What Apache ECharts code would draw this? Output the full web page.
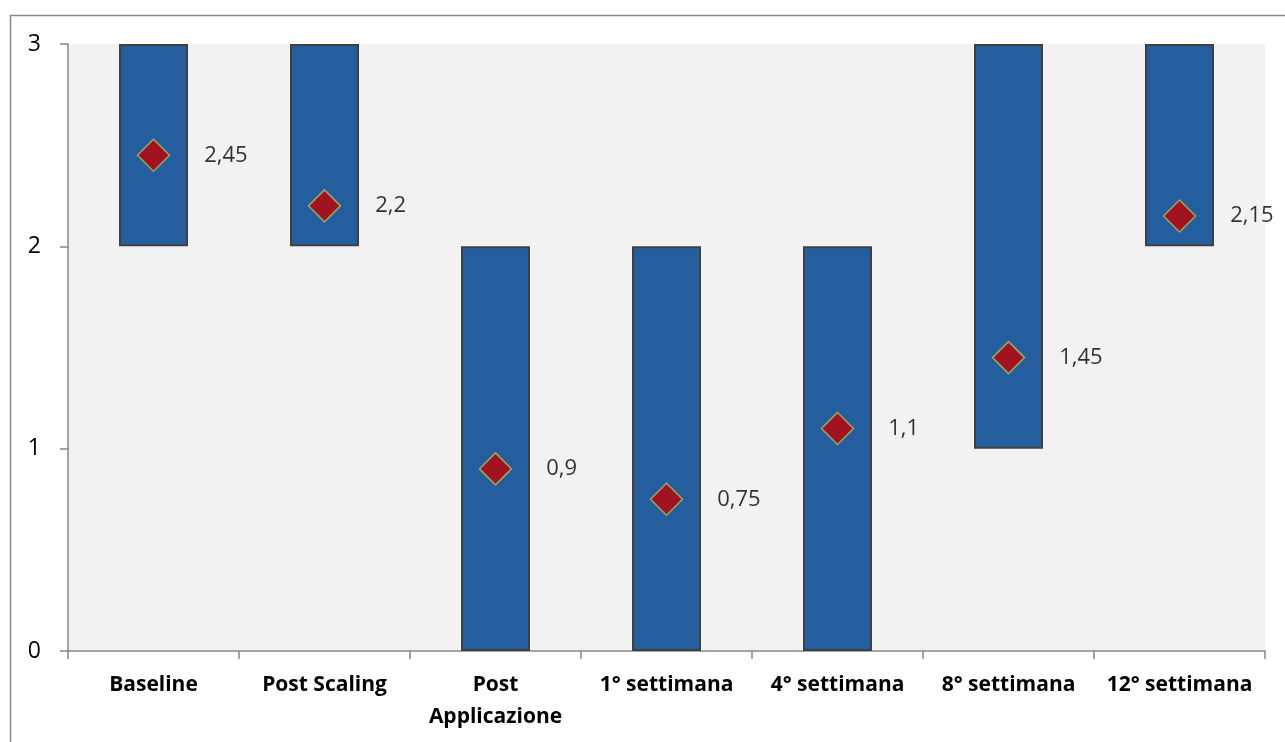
<!DOCTYPE html>
<html>
<head>
<meta charset="utf-8">
<script src="https://cdn.jsdelivr.net/npm/echarts@6/dist/echarts.min.js"></script>
<style>
  html, body { margin: 0; padding: 0; background: #ffffff; }
  #chart { width: 1285px; height: 742px; }
</style>
</head>
<body>
<div id="chart"></div>
<script>
// Timepoints of the study
const categories = ['Baseline', 'Post Scaling', 'Post\nApplicazione', '1° settimana', '4° settimana', '8° settimana', '12° settimana'];
// Range of each floating bar (low / high)
const lows  = [2, 2, 0, 0, 0, 1, 2];
const highs = [3, 3, 2, 2, 2, 3, 3];
// Mean score at each timepoint
const means = [2.45, 2.2, 0.9, 0.75, 1.1, 1.45, 2.15];
// Y axis range
const yMin = 0, yMax = 3, yStep = 1;

const spans = highs.map((h, i) => h - lows[i]);
const fontFamily = '"Open Sans", "Liberation Sans", sans-serif';

const chart = echarts.init(document.getElementById('chart'), null, { renderer: 'canvas' });
chart.setOption({
  animation: false,
  backgroundColor: '#ffffff',
  graphic: [{
    type: 'rect',
    left: 8, top: 13,
    shape: { width: 1300, height: 760 },
    style: { fill: 'none', stroke: '#8a8a8a', lineWidth: 1.5 },
    silent: true,
    z: -1
  }],
  grid: {
    left: 68, right: 20, top: 44, bottom: 91,
    show: true, backgroundColor: '#f2f2f2', borderWidth: 0
  },
  xAxis: {
    type: 'category',
    data: categories,
    boundaryGap: true,
    axisLine: { lineStyle: { color: '#868686', width: 1.5 } },
    axisTick: { show: true, length: 8, interval: 0, lineStyle: { color: '#868686', width: 1.5 } },
    axisLabel: {
      interval: 0, margin: 18, color: '#000000', fontWeight: 'bold',
      fontSize: 21, fontFamily: fontFamily, lineHeight: 32
    },
    splitLine: { show: false }
  },
  yAxis: {
    type: 'value',
    min: yMin, max: yMax, interval: yStep,
    axisLine: { show: true, lineStyle: { color: '#868686', width: 1.5 } },
    axisTick: { show: true, length: 8, lineStyle: { color: '#868686', width: 1.5 } },
    axisLabel: { margin: 27, color: '#000000', fontSize: 23, fontFamily: fontFamily },
    splitLine: { show: false }
  },
  series: [
    {
      name: 'base',
      type: 'bar',
      stack: 'range',
      data: lows,
      barWidth: 69,
      itemStyle: { color: 'transparent', borderWidth: 0 },
      silent: true
    },
    {
      name: 'range',
      type: 'bar',
      stack: 'range',
      data: spans,
      barWidth: 69,
      itemStyle: { color: '#255e9f', borderColor: '#404040', borderWidth: 2 }
    },
    {
      name: 'media',
      type: 'scatter',
      data: means,
      symbol: 'diamond',
      symbolSize: [32, 32],
      itemStyle: { color: '#c00000', borderColor: '#a8c25c', borderWidth: 1.5 },
      label: {
        show: true,
        position: 'right',
        distance: 34,
        color: '#000000',
        fontSize: 22,
        fontFamily: fontFamily,
        formatter: p => String(p.value).replace('.', ',')
      },
      z: 5
    }
  ]
});
</script>
</body>
</html>
